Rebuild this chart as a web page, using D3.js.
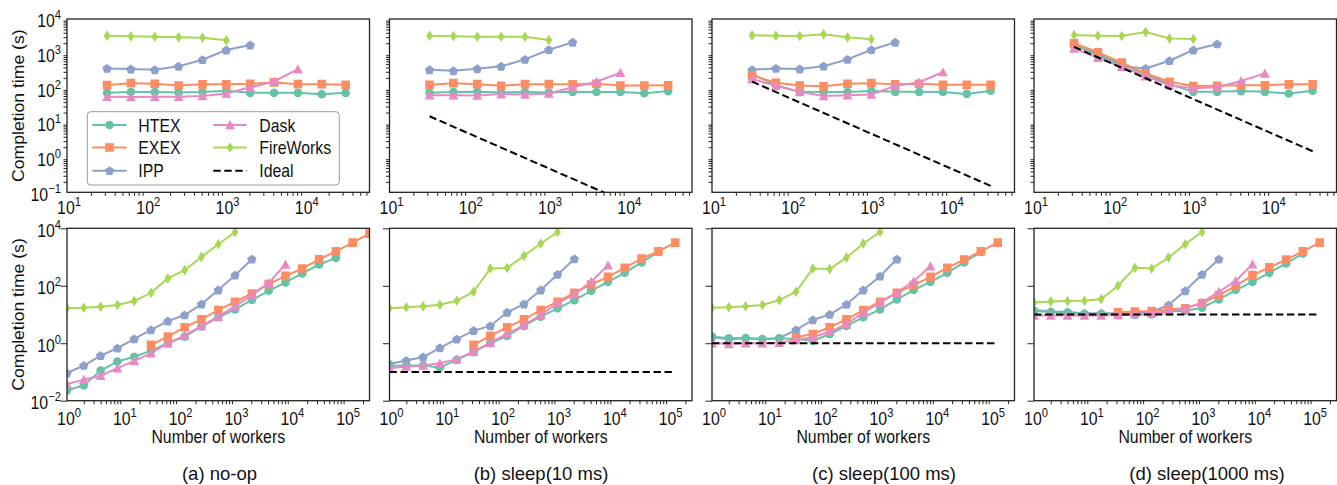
<!DOCTYPE html>
<html><head><meta charset="utf-8">
<script src="https://cdn.jsdelivr.net/npm/d3@7"></script>
<style>
body{margin:0;background:#fff}
text{font-family:"Liberation Sans",Arial,Helvetica,sans-serif;fill:#111}
</style>
</head><body>
<svg id="c" width="1337" height="485"></svg>
<script>
// ---------------- DATA ----------------
const nTop = [32,64,128,256,512,1024,2048,4096,8192,16384,32768];
const nBot = [1,2,4,8,16,32,64,128,256,512,1024,2048,4096,8192,16384,32768,65536,131072,262144];
const seriesNames = ["HTEX","EXEX","IPP","Dask","FireWorks"];
const panelCaptions = ["(a) no-op","(b) sleep(10 ms)","(c) sleep(100 ms)","(d) sleep(1000 ms)"];
const xLabel = "Number of workers";
const yLabel = "Completion time (s)";
const topXTicks = [10,100,1000,10000];
const botXTicks = [1,10,100,1000,10000,100000];
const topYTicks = [0.1,1,10,100,1000,10000];
const botYTicks = [0.01,1,100,10000];

// strong scaling (top row), all series start at 32 workers
const topA_HTEX = [74,78,78,76,78,85,74,74,74,68,74];
const topA_EXEX = [124,141,135,121,130,130,135,148,132,132,126];
const topA_IPP = [376,359,343,430,667,1270,1775];
const topA_Dask = [57,56,57,57,60,71,107,158,359];
const topA_FireWorks = [3290,3160,3080,2960,2880,2420];

const topB_HTEX = [74,78,79,76,78,76,79,78,78,72,83];
const topB_EXEX = [126,141,132,118,132,132,130,135,121,121,123];
const topB_IPP = [343,321,366,430,684,1300,2120];
const topB_Dask = [63,63,62,68,66,71,107,155,282];
const topB_FireWorks = [3290,3200,3080,3080,3080,2470];

const topC_HTEX = [257,123,79,78,78,83,79,79,78,69,85];
const topC_EXEX = [236,145,121,114,135,141,130,135,126,126,126];
const topC_IPP = [343,376,359,435,684,1300,2120];
const topC_Dask = [186,118,79,60,63,66,118,148,295];
const topC_FireWorks = [3370,3290,3230,3610,2960,2590];

const topD_HTEX = [1860,955,490,257,132,79,79,83,79,71,85];
const topD_EXEX = [1990,1100,550,270,155,116,118,123,123,130,130];
const topD_IPP = [1780,915,437,376,624,1270,1900];
const topD_Dask = [1420,760,418,224,123,100,107,163,270];
const topD_FireWorks = [3450,3290,3230,4200,2760,2630];

const idealTopN = [32,32768];
const idealTopB = [15.6,0.0153];
const idealTopC = [156,0.153];
const idealTopD = [1562,1.53];

// weak scaling (bottom row): start at 1 worker, EXEX starts at 32 workers
const botStartEXEX = 5;
const botA_HTEX = [0.0228,0.034,0.112,0.23,0.34,0.55,1.0,1.7,3.8,8,15,32,67,131,269,550,935];
const botA_EXEX = [0.875,1.7,3.6,6.8,14.3,27.8,54,114,221,398,830,1580,3170,6550];
const botA_IPP = [0.091,0.168,0.372,0.67,1.41,2.9,5.9,9.6,23,71,234,840];
const botA_Dask = [0.038,0.054,0.074,0.136,0.244,0.45,1.0,1.84,4.0,8.4,19.5,47,126,550];
const botA_FireWorks = [16.4,17.2,18.6,21.3,29.4,57,180,349,1010,2790,7450];

const botB_HTEX = [0.163,0.167,0.167,0.143,0.263,0.49,1.0,1.8,4.0,8.4,16.4,31.6,67,137,282,650,1500];
const botB_EXEX = [0.875,1.8,3.6,6.8,14.3,27.8,57,111,205,420,890,1580,3170];
const botB_IPP = [0.19,0.25,0.33,0.69,1.38,2.75,4.0,11.9,23,71,248,860];
const botB_Dask = [0.136,0.155,0.167,0.2,0.28,0.51,1.05,2.1,4.3,9.6,24.5,51,138,520];
const botB_FireWorks = [16.4,17.8,19.2,21.9,30,62,398,417,1100,2950,7450];

const botC_HTEX = [1.7,1.49,1.53,1.41,1.49,1.41,1.23,2.06,4.0,8,15,33.6,71,137,282,650,1500];
const botC_EXEX = [1.62,2.1,3.6,6.8,14.3,27.8,57,105,205,420,815,1580,3170];
const botC_IPP = [1.62,1.38,1.49,1.38,1.49,2.9,6.5,10,22.4,71,216,840];
const botC_Dask = [1.0,0.95,1.0,1.0,1.05,1.3,1.62,2.5,4.6,11.5,25.7,57,145,478];
const botC_FireWorks = [17.2,17.8,19.2,21.3,31.6,62,398,380,955,2950,7450];

const botD_HTEX = [13.5,11.9,11.5,10.4,10.4,9.6,9.6,10,12.6,13.5,17.2,33.6,71,137,282,596,1320];
const botD_EXEX = [11.9,12.6,13.2,15.1,16.4,24.5,47,98,234,437,815,1580,3170];
const botD_IPP = [14.3,12.6,12.3,11,11,11,11,12.6,21.3,67,248,840];
const botD_Dask = [9.2,9.2,9.2,9.2,9.2,9.6,10.4,11,13.5,16.4,26.3,62,148,560];
const botD_FireWorks = [26.3,28.6,29.4,30,34.4,100,420,400,955,2790,7450];

const idealBotN = [1,131072];
const idealBotB = [0.1,0.1];
const idealBotC = [1,1];
const idealBotD = [10,10];

// ---------------- STYLE / LAYOUT ----------------
const colors = {HTEX:"#66c2a5",EXEX:"#fc8d62",IPP:"#8da0cb",Dask:"#e78ac3",FireWorks:"#a6d854"};
const markers = {HTEX:"circle",EXEX:"square",IPP:"pentagon",Dask:"triangle",FireWorks:"thin_diamond"};
const drawOrder = ["IPP","HTEX","EXEX","Dask","FireWorks"];
const lefts = [67,389.5,712,1034];
const W = 302.5;
const rows = [{y0:19,y1:192.3,xd:[10,65536],yd:[0.1,1e4]},{y0:228.3,y1:400.7,xd:[1,262144],yd:[0.01,1e4]}];
const captionX = [219.5,541,884,1207];
const SQ = 0.9; // horizontal text compression of the reference
const FS = 17.6;
const axisColor = "#222";

const svg = d3.select("#c");

function markerPath(type){
  if(type==="circle") return d3.symbol(d3.symbolCircle, Math.PI*4.3*4.3)();
  if(type==="square"){const s=4.3;return `M${-s},${-s}H${s}V${s}H${-s}Z`;}
  if(type==="pentagon"){const R=4.9;return "M"+d3.range(5).map(k=>{const a=(-90+72*k)*Math.PI/180;return [R*Math.cos(a),R*Math.sin(a)+0.4].join(",");}).join("L")+"Z";}
  if(type==="triangle"){return "M0,-4.9L4.9,4.3L-4.9,4.3Z";}
  if(type==="thin_diamond"){return "M0,-5.3L3.4,0L0,5.3L-3.4,0Z";}
}

function hText(parent,x,y,anchor,size){
  return parent.append("text").attr("transform",`translate(${x},${y}) scale(${SQ},1)`)
    .attr("text-anchor",anchor).attr("font-size",size);
}
function powLabel(parent,x,y,anchor,v){
  const e = Math.round(Math.log10(v));
  const t = hText(parent,x,y,anchor,FS);
  t.append("tspan").text("10");
  t.append("tspan").attr("dy",-8).attr("font-size",12.5).text(e<0?"\u2212"+(-e):String(e));
  return t;
}
function minorTicks(domain){
  const out=[];
  for(let e=Math.floor(Math.log10(domain[0]));e<=Math.ceil(Math.log10(domain[1]));e++){
    for(let k=2;k<=9;k++){const v=k*Math.pow(10,e); if(v>domain[0]&&v<domain[1]) out.push(v);}
  }
  return out;
}

function drawPanel(col,row,series,idealN,idealV){
  const cfg = rows[row];
  const L = lefts[col], R = L+W;
  const x = d3.scaleLog().domain(cfg.xd).range([L,R]);
  const y = d3.scaleLog().domain(cfg.yd).range([cfg.y1,cfg.y0]);
  const g = svg.append("g");
  const id = `clip${col}_${row}`;
  svg.append("clipPath").attr("id",id).append("rect")
    .attr("x",L).attr("y",cfg.y0).attr("width",W).attr("height",cfg.y1-cfg.y0);

  const xMaj = row===0?topXTicks:botXTicks;
  const yMaj = row===0?topYTicks:botYTicks;
  // x ticks
  const gx = g.append("g").attr("transform",`translate(0,${cfg.y1})`);
  gx.call(d3.axisBottom(x).tickValues(xMaj).tickSize(6.5).tickFormat(""));
  gx.call(d3.axisBottom(x).tickValues(minorTicks(cfg.xd)).tickSize(3.5).tickFormat(""));
  // y ticks
  const gy = g.append("g").attr("transform",`translate(${L},0)`);
  gy.call(d3.axisLeft(y).tickValues(yMaj).tickSize(6.5).tickFormat(""));
  if(row===0) gy.call(d3.axisLeft(y).tickValues(minorTicks(cfg.yd)).tickSize(3.5).tickFormat(""));
  g.selectAll(".domain").remove();
  g.selectAll(".tick line").attr("stroke",axisColor).attr("stroke-width",1);

  // x labels
  const xBase = row===0?cfg.y1+21.7:cfg.y1+24.3;
  xMaj.forEach(v=>powLabel(g,x(v)+2,xBase,"middle",v));
  // y labels only first column
  if(col===0){
    yMaj.forEach(v=>powLabel(g,L-6,y(v)+8.3,"end",v));
    g.append("text").attr("transform",`translate(24,${(cfg.y0+cfg.y1)/2}) scale(${SQ},1) rotate(-90)`)
      .attr("text-anchor","middle").attr("font-size",FS).text(yLabel);
  }
  if(row===1){
    hText(g,(L+R)/2,443.3,"middle",FS).text(xLabel);
  }

  const plot = g.append("g").attr("clip-path",`url(#${id})`);
  const ns = row===0?nTop:nBot;
  drawOrder.forEach(name=>{
    const s = series[name];
    const pts = s.values.map((v,i)=>[x(ns[s.start+i]),y(v)]);
    plot.append("path").attr("d",d3.line()(pts)).attr("fill","none")
      .attr("stroke",colors[name]).attr("stroke-width",2);
    plot.append("g").selectAll("path").data(pts).join("path")
      .attr("d",markerPath(markers[name]))
      .attr("transform",d=>`translate(${d[0]},${d[1]})`)
      .attr("fill",colors[name]);
  });
  if(idealV){
    plot.append("path").attr("d",d3.line()(idealN.map((n,i)=>[x(n),y(idealV[i])])))
      .attr("fill","none").attr("stroke","#000").attr("stroke-width",2).attr("stroke-dasharray","7.4,3.6");
  }
  g.append("rect").attr("x",L).attr("y",cfg.y0).attr("width",W).attr("height",cfg.y1-cfg.y0)
    .attr("fill","none").attr("stroke",axisColor).attr("stroke-width",1.3);
  return g;
}

function S(h,e,i,d,f,eStart){
  return {HTEX:{values:h,start:0},EXEX:{values:e,start:eStart},IPP:{values:i,start:0},Dask:{values:d,start:0},FireWorks:{values:f,start:0}};
}

drawPanel(0,0,S(topA_HTEX,topA_EXEX,topA_IPP,topA_Dask,topA_FireWorks,0),null,null);
drawPanel(1,0,S(topB_HTEX,topB_EXEX,topB_IPP,topB_Dask,topB_FireWorks,0),idealTopN,idealTopB);
drawPanel(2,0,S(topC_HTEX,topC_EXEX,topC_IPP,topC_Dask,topC_FireWorks,0),idealTopN,idealTopC);
drawPanel(3,0,S(topD_HTEX,topD_EXEX,topD_IPP,topD_Dask,topD_FireWorks,0),idealTopN,idealTopD);
drawPanel(0,1,S(botA_HTEX,botA_EXEX,botA_IPP,botA_Dask,botA_FireWorks,botStartEXEX),null,null);
drawPanel(1,1,S(botB_HTEX,botB_EXEX,botB_IPP,botB_Dask,botB_FireWorks,botStartEXEX),idealBotN,idealBotB);
drawPanel(2,1,S(botC_HTEX,botC_EXEX,botC_IPP,botC_Dask,botC_FireWorks,botStartEXEX),idealBotN,idealBotC);
drawPanel(3,1,S(botD_HTEX,botD_EXEX,botD_IPP,botD_Dask,botD_FireWorks,botStartEXEX),idealBotN,idealBotD);

// captions
panelCaptions.forEach((c,i)=>{
  svg.append("text").attr("x",captionX[i]).attr("y",479.5).attr("text-anchor","middle")
    .attr("font-size",18.5).text(c);
});

// legend
const leg = svg.append("g");
leg.append("rect").attr("x",87.3).attr("y",111.7).attr("width",252).attr("height",73.3)
  .attr("rx",3.5).attr("fill","#fff").attr("fill-opacity",0.85).attr("stroke","#9a9a9a").attr("stroke-width",1);
const legendItems = ["HTEX","EXEX","IPP","Dask","FireWorks","Ideal"];
const legCols = [{x0:92.3,x1:126.7,tx:138.3},{x0:213.3,x1:246.7,tx:259.3}];
const legRows = [125,147.5,170.7];
legendItems.forEach((name,k)=>{
  const c = legCols[Math.floor(k/3)], ry = legRows[k%3];
  if(name==="Ideal"){
    leg.append("line").attr("x1",c.x0).attr("x2",c.x1).attr("y1",ry).attr("y2",ry)
      .attr("stroke","#000").attr("stroke-width",2).attr("stroke-dasharray","7.4,3.6");
  } else {
    leg.append("line").attr("x1",c.x0).attr("x2",c.x1).attr("y1",ry).attr("y2",ry)
      .attr("stroke",colors[name]).attr("stroke-width",2);
    leg.append("path").attr("d",markerPath(markers[name]))
      .attr("transform",`translate(${(c.x0+c.x1)/2},${ry})`).attr("fill",colors[name]);
  }
  hText(leg,c.tx,ry+6.6,"start",FS).text(name);
});
</script>
</body></html>
